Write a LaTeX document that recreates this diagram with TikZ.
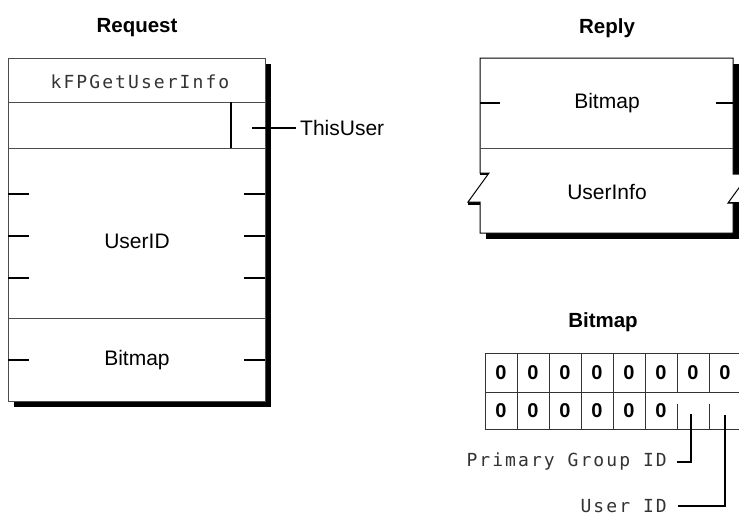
\documentclass[tikz,border=0pt]{standalone}
\usepackage{fontspec}
\setmainfont{Liberation Sans}
\newfontfamily\monof[LetterSpace=11.5]{DejaVu Sans Mono}
\tikzset{
  boxline/.style={draw=black!70, line width=1pt},
  tickline/.style={draw=black, line width=1.1pt},
  lbl/.style={font=\fontsize{21}{25}\selectfont, inner sep=0pt},
  ttl/.style={font=\fontsize{20.5}{24}\selectfont\bfseries, inner sep=0pt},
  mono/.style={font=\monof\fontsize{18}{22}\selectfont, text=black!80, inner sep=0pt},
  bit/.style={font=\fontsize{20}{24}\selectfont\bfseries, inner sep=0pt},
  tabline/.style={draw=black!80, line width=1pt},
}
\begin{document}
\begin{tikzpicture}[x=1pt,y=-1pt]
\useasboundingbox (0,0) rectangle (739,517);
\clip (0,0) rectangle (739,517);
\fill[white] (0,0) rectangle (739,517);

% titles
\node[ttl] (req) at (137,28) {Request};
\node[ttl] (rep) at (607,28) {Reply};
\node[ttl] (bmt) at (603,322) {Bitmap};

% Request box
\fill[black] (14,64) rectangle (271,407);
\draw[boxline, fill=white] (8,58) rectangle (265,401);
\draw[boxline] (8,102) -- (265,102);
\draw[boxline] (8,148) -- (265,148);
\draw[boxline] (8,318) -- (265,318);
\draw[tickline] (231,102) -- (231,148);
\foreach \yy in {194,236,278,360} {
  \draw[tickline] (8,\yy) -- (29,\yy);
  \draw[tickline] (244,\yy) -- (265,\yy);
}
\node[mono] (cmd) at (140,82) {kFPGetUserInfo};
\node[lbl] (uid) at (137,241) {UserID};
\node[lbl] (rbm) at (137,360) {Bitmap};
\node[lbl, anchor=west] (thisuser) at (300,128) {ThisUser};
\coordinate (tu) at (252,128);
\draw[tickline] (tu) -- ([xshift=-4pt]thisuser.west);

% Reply box: shadow pieces
\fill[black] (733,64) rectangle (739,174);
\fill[black] (733,203) rectangle (739,239);
\fill[black] (486,233) rectangle (739,239);
\fill[black] (728,202) rectangle (739,205.5);
\fill[black] (480,172.5) rectangle (489,175);
\fill[black] (468,201.5) rectangle (480,205);
% Reply box outline
\draw[boxline, draw=black, fill=white]
  (480,58) -- (733,58) -- (733,174) -- (749,174) -- (728,203) -- (733,203)
  -- (733,233) -- (480,233) -- (480,202) -- (468,202) -- (489,173) -- (480,173) -- cycle;
\draw[boxline] (480,148) -- (733,148);
\draw[tickline] (480,103) -- (500,103);
\draw[tickline] (716,103) -- (733,103);
\node[lbl] (rpbm) at (607,103) {Bitmap};
\node[lbl] (rpui) at (607,192) {UserInfo};

% Bitmap table
\draw[tabline] (485,353) -- (745,353);
\draw[tabline] (485,392) -- (745,392);
\draw[tabline] (485,429) -- (745,429);
\foreach \i in {0,...,8} {
  \draw[tabline] ({485+32*\i},353) -- ({485+32*\i},392);
}
\foreach \i in {0,...,5} {
  \draw[tabline] ({485+32*\i},392) -- ({485+32*\i},429);
}
\draw[tabline] (677,404) -- (677,429);
\draw[tabline] (709,404) -- (709,429);
\foreach \i in {0,...,7} {
  \node[bit] (ra\i) at ({501+32*\i},373) {0};
}
\foreach \i in {0,...,5} {
  \node[bit] (rb\i) at ({501+32*\i},411) {0};
}

% callouts
\node[mono, anchor=east] (pgl) at (667,462) {Primary Group ID};
\node[mono, anchor=east] (usl) at (667,506) {User ID};
\coordinate (pgc) at (691,414);
\coordinate (usc) at (725,415);
\draw[tickline] (pgc) |- ([xshift=10pt]pgl.east);
\draw[tickline] (usc) |- ([xshift=11pt]usl.east);
\end{tikzpicture}
\end{document}
